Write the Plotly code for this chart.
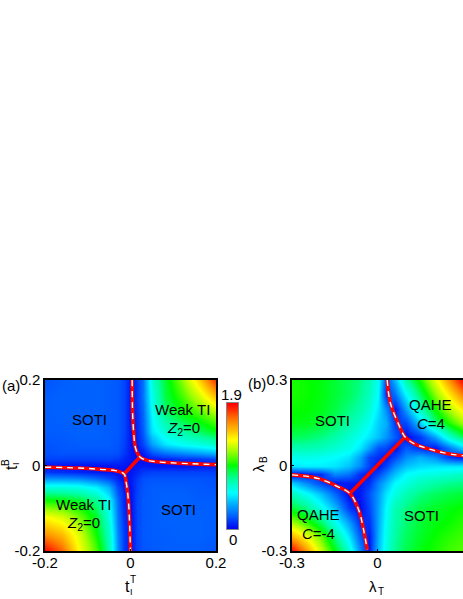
import plotly.graph_objects as go

W, H = 463, 599
FONT = "Liberation Sans"

cmap = [[0, "#0000f0"], [0.10, "#0058ff"], [0.29, "#00ffff"], [0.40, "#00ffa0"], [0.51, "#00ff00"],
        [0.62, "#a0ff00"], [0.71, "#ffff00"], [0.85, "#ff8c00"], [1, "#ff0000"]]

# Panel (a): values
a_x = [-.2, -.16, -.12, -.08, -.05, -.03, -.015, 0, .015, .03, .05, .08, .12, .16, .2]
a_y = [.2, .16, .12, .08, .05, .03, .015, 0, -.015, -.03, -.05, -.08, -.12, -.16, -.2]
a_z = [
    [.18, .2, .21, .21, .2, .19, .15, .04, .12, .25, .65, .9, 1.15, 1.45, 1.8],
    [.2, .21, .21, .21, .2, .19, .15, .04, .12, .25, .6, .88, 1.05, 1.25, 1.5],
    [.2, .21, .21, .21, .2, .19, .15, .04, .1, .22, .55, .8, .95, 1.05, 1.18],
    [.2, .2, .21, .21, .2, .19, .15, .04, .08, .2, .5, .65, .75, .85, .95],
    [.18, .19, .2, .2, .2, .18, .14, .04, .06, .15, .35, .5, .58, .62, .68],
    [.17, .18, .18, .18, .18, .17, .12, .05, .03, .06, .18, .25, .3, .35, .4],
    [.14, .14, .14, .14, .14, .12, .08, .05, .02, .02, .04, .07, .1, .12, .15],
    [.04, .03, .03, .03, .04, .05, .05, .03, .05, .06, .05, .04, .04, .05, .05],
    [.12, .1, .08, .06, .05, .03, .02, .05, .08, .12, .14, .14, .14, .14, .14],
    [.3, .3, .28, .22, .15, .07, .03, .06, .12, .17, .18, .18, .18, .18, .17],
    [.62, .62, .6, .52, .38, .15, .06, .04, .14, .18, .2, .2, .2, .19, .18],
    [.98, .95, .9, .78, .55, .22, .08, .04, .15, .19, .2, .21, .21, .2, .2],
    [1.35, 1.28, 1.12, .92, .62, .25, .1, .04, .15, .19, .2, .21, .21, .21, .2],
    [1.6, 1.5, 1.28, .98, .68, .28, .12, .04, .15, .19, .2, .2, .21, .21, .2],
    [1.9, 1.7, 1.35, 1.08, .72, .3, .12, .04, .14, .18, .19, .2, .2, .2, .18],
]
a_upper_x = [.004, .005, .008, .012, .022, .04, .07, .12, .2]
a_upper_y = [.2, .12, .07, .04, .02, .012, .008, .005, .002]
a_lower_x = [-.2, -.12, -.07, -.035, -.015, -.01, -.005, -.002, 0]
a_lower_y = [-.004, -.006, -.009, -.012, -.02, -.04, -.08, -.14, -.2]
a_link_x = [-.015, .022]
a_link_y = [-.02, .02]

# Panel (b): values
b_x = [-.3, -.25, -.2, -.15, -.1, -.06, -.03, 0, .03, .06, .1, .15, .2, .25, .3]
b_y = [.3, .25, .2, .15, .1, .06, .03, 0, -.03, -.06, -.1, -.15, -.2, -.25, -.3]
b_z = [
    [1.0, .98, .95, .9, .85, .8, .72, .58, .15, .4, .75, 1.0, 1.3, 1.6, 1.9],
    [1.0, .98, .95, .9, .85, .78, .7, .55, .1, .25, .55, .85, 1.15, 1.4, 1.65],
    [.98, .97, .94, .88, .8, .74, .65, .5, .3, .05, .35, .7, .98, 1.2, 1.4],
    [.95, .94, .9, .84, .74, .66, .58, .45, .38, .12, .15, .45, .8, 1.0, 1.18],
    [.85, .84, .8, .74, .65, .58, .5, .42, .32, .2, .02, .12, .35, .65, .85],
    [.72, .72, .7, .65, .6, .5, .35, .18, .15, .03, .2, .1, .05, .25, .45],
    [.6, .6, .58, .55, .5, .35, .15, .1, .04, .15, .3, .38, .3, .12, .03],
    [.5, .52, .52, .5, .42, .3, .14, .03, .14, .3, .42, .48, .5, .5, .5],
    [.02, .05, .1, .3, .25, .1, .05, .15, .28, .42, .55, .6, .62, .65, .68],
    [.45, .3, .15, .05, .06, .05, .1, .28, .4, .55, .62, .7, .75, .78, .8],
    [.7, .58, .42, .22, .02, .05, .18, .33, .5, .62, .72, .8, .85, .88, .9],
    [.9, .8, .6, .4, .12, .02, .15, .35, .55, .72, .8, .88, .92, .95, .98],
    [1.2, 1.05, .85, .6, .35, .1, .1, .36, .58, .74, .82, .9, .95, .98, 1.02],
    [1.55, 1.35, 1.1, .8, .5, .2, .05, .38, .6, .76, .85, .92, .98, 1.02, 1.05],
    [1.9, 1.6, 1.25, .95, .65, .3, .05, .4, .62, .78, .87, .95, 1.0, 1.05, 1.08],
]
b_upper_x = [.034, .045, .07, .097, .13, .174, .23, .3]
b_upper_y = [.3, .22, .154, .1, .076, .06, .045, .034]
b_lower_x = [-.3, -.21, -.14, -.097, -.066, -.05, -.036]
b_lower_y = [-.033, -.045, -.074, -.098, -.156, -.22, -.296]
b_link_x = [-.097, .097]
b_link_y = [-.098, .1]

a_ticks = [-.2, 0, .2]
a_ticktext = ["-0.2", "0", "0.2"]
b_ticks = [-.3, 0, .3]
b_ticktext = ["-0.3", "0", "0.3"]
z_min, z_max = 0, 1.9

# Colour bar levels, bottom to top
bar_levels = [0, .1, .2, .3, .4, .5, .6, .7, .8, .9, 1.0, 1.1, 1.2, 1.3, 1.4, 1.5, 1.6, 1.7, 1.8, 1.9]
bar_columns = [0, 1]


def px(x):
    return x / W


def py(y):
    return 1 - y / H


fig = go.Figure()
fig.add_trace(go.Heatmap(x=a_x, y=a_y[::-1], z=a_z[::-1], zmin=z_min, zmax=z_max, zsmooth="best",
                         colorscale=cmap, xaxis="x", yaxis="y", hoverinfo="skip", showscale=False))
fig.add_trace(go.Heatmap(x=b_x, y=b_y[::-1], z=b_z[::-1], zmin=z_min, zmax=z_max, zsmooth="best",
                         colorscale=cmap, xaxis="x2", yaxis="y2", showscale=False, hoverinfo="skip"))
fig.add_trace(go.Heatmap(x=bar_columns, y=bar_levels, z=[[v, v] for v in bar_levels], zmin=z_min, zmax=z_max,
                         zsmooth="best", colorscale=cmap, xaxis="x3", yaxis="y3", showscale=False, hoverinfo="skip"))


def boundary(xs, ys, xa, ya):
    fig.add_trace(go.Scatter(x=xs, y=ys, xaxis=xa, yaxis=ya, mode="lines", showlegend=False, hoverinfo="skip",
                             line=dict(color="#ff0000", width=3.6, shape="spline")))
    fig.add_trace(go.Scatter(x=xs, y=ys, xaxis=xa, yaxis=ya, mode="lines", showlegend=False, hoverinfo="skip",
                             line=dict(color="#ffffff", width=1.4, shape="spline", dash="6px,5px")))


def link(xs, ys, xa, ya):
    fig.add_trace(go.Scatter(x=xs, y=ys, xaxis=xa, yaxis=ya, mode="lines", showlegend=False, hoverinfo="skip",
                             line=dict(color="#ff0000", width=3.6)))


link(a_link_x, a_link_y, "x", "y")
boundary(a_upper_x, a_upper_y, "x", "y")
boundary(a_lower_x, a_lower_y, "x", "y")
link(b_link_x, b_link_y, "x2", "y2")
boundary(b_upper_x, b_upper_y, "x2", "y2")
boundary(b_lower_x, b_lower_y, "x2", "y2")


def axis(dom, ticks, text, anchor, standoff=0):
    return dict(domain=dom, range=[ticks[0], ticks[-1]], tickvals=ticks, ticktext=text, anchor=anchor,
                ticks="inside", ticklen=2, tickwidth=1, tickcolor="black", showline=True, mirror=True,
                linecolor="black", linewidth=1.5, showgrid=False, zeroline=False, layer="above traces",
                tickfont=dict(family=FONT, size=15, color="black"), tickangle=0, automargin=False,
                ticklabelstandoff=standoff)


def bar_axis(dom, rng, anchor):
    return dict(domain=dom, range=rng, anchor=anchor, showticklabels=False, ticks="", showgrid=False,
                zeroline=False, showline=True, mirror=True, linecolor="#888888", linewidth=1)


def label(x, y, text, size=15, angle=0):
    return dict(x=px(x), y=py(y), xref="paper", yref="paper", text=text, showarrow=False,
                font=dict(family=FONT, size=size, color="black"), textangle=angle,
                xanchor="center", yanchor="middle")


annotations = [
    label(11, 385, "(a)"),
    label(256.5, 383, "(b)"),
    label(89, 419, "SOTI"),
    label(182.5, 409, "Weak TI"),
    label(183, 428, "<i>Z</i><sub>2</sub>=0"),
    label(83, 504, "Weak TI"),
    label(83, 523, "<i>Z</i><sub>2</sub>=0"),
    label(178, 509, "SOTI"),
    label(232, 394, "1.9", 15),
    label(233, 539, "0", 15),
    label(332, 420, "SOTI"),
    label(430, 404, "QAHE"),
    label(431, 423, "<i>C</i>=4"),
    label(318, 514, "QAHE"),
    label(318, 533, "<i>C</i>=-4"),
    label(421, 515, "SOTI"),
    # axis titles
    label(127, 586, "t", 16),
    label(131.5, 592, "I", 9),
    label(132.5, 579, "T", 10),
    label(11, 468, "t", 16, -90),
    label(16, 464, "I", 9, -90),
    label(5, 463, "B", 10, -90),
    label(373, 586, "λ", 15),
    label(381, 591, "T", 10),
    label(258, 468, "λ", 15, -90),
    label(263, 460, "B", 10, -90),
]

fig.update_layout(
    width=W, height=H, autosize=False, margin=dict(l=0, r=0, t=0, b=0, pad=0),
    paper_bgcolor="white", plot_bgcolor="white", showlegend=False,
    xaxis=axis([px(45), px(216)], a_ticks, a_ticktext, "y", -3),
    yaxis=axis([py(551), py(380)], a_ticks, a_ticktext, "x"),
    xaxis2=axis([px(292), 1], b_ticks, b_ticktext, "y2", -3),
    yaxis2=axis([py(551), py(380)], b_ticks, b_ticktext, "x2"),
    xaxis3=bar_axis([px(227), px(238)], [0, 1], "y3"),
    yaxis3=bar_axis([py(529), py(403)], [z_min, z_max], "x3"),
    annotations=annotations,
)
fig.write_html("out.html", config={"displayModeBar": False},
               post_script="document.body.style.margin='0';document.body.style.overflow='hidden';")
